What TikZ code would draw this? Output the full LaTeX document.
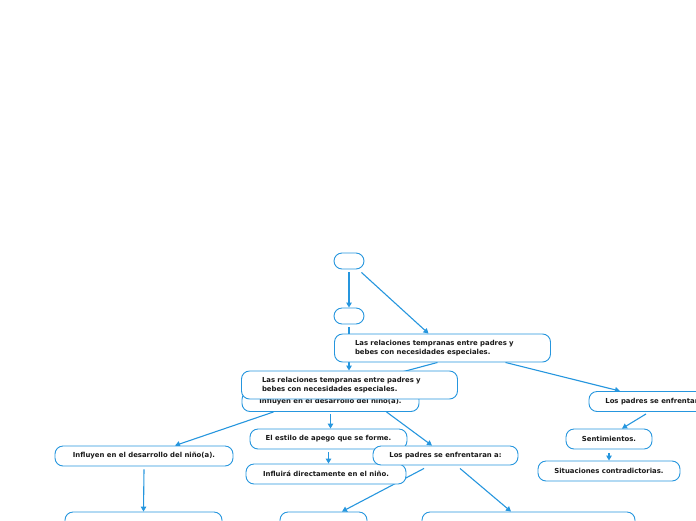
\documentclass[tikz,border=0pt]{standalone}
\usepackage{fontspec}
\setmainfont{DejaVu Sans}
\usepackage{tikz}
\usetikzlibrary{arrows.meta, backgrounds}
\definecolor{mapblue}{RGB}{38,150,222}
\definecolor{maptext}{RGB}{25,25,25}

\begin{document}
\begin{tikzpicture}[
  x=1pt, y=-1pt,
  block/.style={rectangle, draw=mapblue, line width=0.9pt, fill=white, rounded corners=8pt, align=center,
    minimum height=20pt, inner sep=0pt, text=maptext, font=\bfseries\fontsize{6.9}{9.5}\selectfont},
  wideblock/.style={block, minimum height=28pt, text width=175pt, align=left, inner xsep=20.5pt},
  arrow/.style={-{Triangle[length=5pt,width=5.5pt]}, mapblue, line width=1.1pt}
]
\useasboundingbox (0,0) rectangle (696,520);
\clip (0,0) rectangle (696,520);

\node[block, minimum width=30pt, minimum height=16pt] (root) at (349,261) {};
\node[block, minimum width=30pt, minimum height=16pt] (sub) at (349,316) {};
\node[wideblock] (rel) at (442.5,348) {Las relaciones tempranas entre padres y\\bebes con necesidades especiales.};
\node[block, minimum width=177pt] (infl) at (330.5,401.5) {Influyen en el desarrollo del niño(a).};
\node[wideblock] (relb) at (349.5,385) {Las relaciones tempranas entre padres y\\bebes con necesidades especiales.};
\node[block, minimum width=145pt] (padresr) at (661.5,401.5) {Los padres se enfrentaran a:};
\node[block, minimum width=178pt] (desarrollo) at (144,456) {Influyen en el desarrollo del niño(a).};
\node[block, minimum width=157pt] (apego) at (328.5,439) {El estilo de apego que se forme.};
\node[block, minimum width=160pt] (directo) at (326,474) {Influirá directamente en el niño.};
\node[block, minimum width=145pt, minimum height=19pt] (padres) at (445.5,455.5) {Los padres se enfrentaran a:};
\node[block, minimum width=86pt] (sentim) at (609,439) {Sentimientos.};
\node[block, minimum width=142pt] (situac) at (609,471) {Situaciones contradictorias.};
\node[block, minimum width=157pt] (hijo) at (143.5,522) {};
\node[block, minimum width=87pt] (padresa) at (323.5,522) {};
\node[block, minimum width=213pt] (padresb) at (528.5,522) {};

\begin{pgfonlayer}{background}
\draw[arrow] ([yshift=-3pt]root.south) -- (sub.north);
\draw[arrow] ([xshift=-3pt,yshift=-3pt]root.south east) -- ([xshift=-14pt]rel.north);
\draw[arrow] ([yshift=-3pt]sub.south) -- (sub.south |- relb.north);
\draw[arrow] ([xshift=-5pt]rel.south) -- (infl.north);
\draw[arrow] ([xshift=63pt]rel.south) -- ([xshift=-41.5pt]padresr.north);
\draw[arrow] ([xshift=-57pt]infl.south) -- ([xshift=31pt]desarrollo.north);
\draw[arrow] ([yshift=-2pt]infl.south) -- (infl.south |- apego.north);
\draw[arrow] ([xshift=56pt]infl.south) -- ([xshift=-13.5pt]padres.north);
\draw[arrow] ([yshift=-3pt]apego.south) -- (apego.south |- directo.north);
\draw[arrow] ([yshift=-3pt]desarrollo.south) -- (hijo.north);
\draw[arrow] ([xshift=-21.5pt,yshift=-3pt]padres.south) -- ([xshift=18.5pt]padresa.north);
\draw[arrow] ([xshift=14.5pt,yshift=-3pt]padres.south) -- ([xshift=-17.5pt]padresb.north);
\draw[arrow] ([xshift=-15.5pt,yshift=-2pt]padresr.south) -- ([xshift=13pt]sentim.north);
\draw[arrow] ([yshift=-4pt]sentim.south) -- (situac.north);
\end{pgfonlayer}
\end{tikzpicture}
\end{document}
